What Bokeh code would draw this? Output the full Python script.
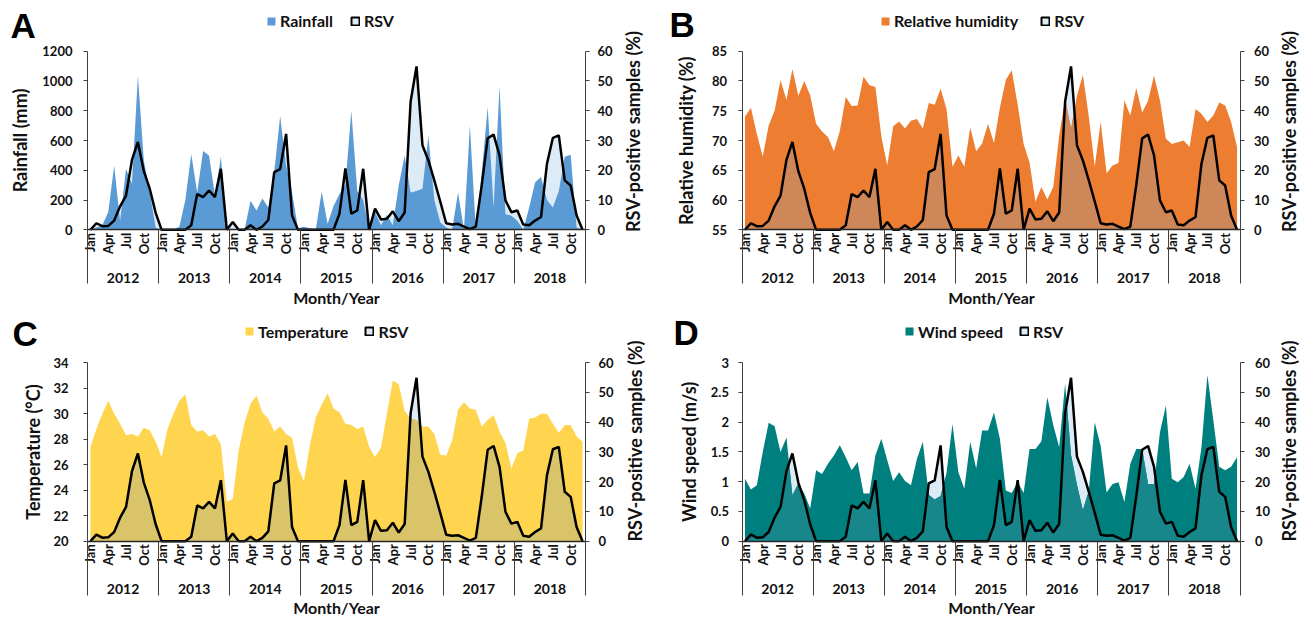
import math
import numpy as np
from bokeh.plotting import figure
from bokeh.models import (Range1d, LinearAxis, FixedTicker, Legend, LegendItem, Label,
                          NumeralTickFormatter)
from bokeh.layouts import column, row
from bokeh.embed import file_html
from bokeh.resources import INLINE

years = ["2012", "2013", "2014", "2015", "2016", "2017", "2018"]
months = ["Jan", "Feb", "Mar", "Apr", "May", "Jun", "Jul", "Aug", "Sep", "Oct", "Nov", "Dec"]
labelled_months = ["Jan", "Apr", "Jul", "Oct"]

# RSV-positive samples (%), monthly 2012-2018
rsv_positive = [
    0, 2.2, 1.2, 1.3, 3.1, 7.9, 11.5, 23.5, 29.5, 19.7, 13.8, 5.7,
    0, 0, 0, 0, 0, 1.5, 12.0, 11.0, 13.2, 11.0, 20.5, 0,
    2.6, 0, 0, 1.5, 0, 1.1, 3.3, 19.4, 20.4, 32.2, 4.8, 0,
    0, 0, 0, 0, 0, 0, 5.4, 20.6, 5.4, 6.5, 20.5, 0,
    7.1, 3.5, 3.7, 6.2, 2.9, 5.8, 43.0, 54.9, 28.4, 23.3, 16.6, 9.5,
    2.2, 1.8, 2.0, 1.1, 0.2, 1.1, 15.0, 30.7, 32.0, 25.0, 9.9, 5.9,
    6.5, 1.8, 1.5, 3.1, 4.3, 22.2, 30.9, 31.7, 16.6, 14.9, 4.8, 0,
]
# Rainfall (mm)
rainfall = [
    0, 15, 30, 120, 430, 60, 410, 310, 1035, 465, 250, 15,
    0, 0, 0, 20, 200, 510, 250, 530, 500, 230, 490, 0,
    0, 0, 0, 195, 130, 210, 150, 390, 765, 430, 250, 10,
    20, 10, 0, 255, 40, 160, 240, 300, 800, 260, 200, 0,
    120, 30, 100, 30, 300, 500, 250, 260, 275, 630, 200, 50,
    15, 0, 250, 0, 700, 0, 380, 825, 150, 965, 105, 95,
    60, 0, 150, 320, 355, 200, 150, 260, 490, 505, 15, 0,
]
# Relative humidity (%)
humidity = [
    74.0, 75.5, 71.1, 67.3, 72.5, 75.0, 80.1, 76.8, 82.0, 77.5, 80.0, 77.6,
    72.8, 71.5, 70.6, 68.2, 71.6, 77.3, 75.8, 75.9, 80.7, 79.3, 79.0, 70.7,
    65.8, 72.4, 73.2, 72.0, 73.3, 73.6, 72.0, 76.3, 76.0, 78.7, 75.3, 65.6,
    67.5, 65.6, 72.2, 68.2, 69.5, 72.8, 69.6, 75.5, 80.2, 81.8, 76.0, 69.4,
    66.3, 59.7, 62.2, 60.1, 62.2, 70.8, 77.0, 72.0, 77.5, 81.0, 74.0, 65.6,
    73.1, 64.5, 65.8, 66.2, 76.7, 74.2, 78.8, 74.7, 76.7, 80.9, 76.7, 70.3,
    69.4, 69.7, 70.0, 68.9, 75.3, 74.5, 73.1, 74.2, 76.4, 75.9, 73.1, 68.9,
]
# Temperature (deg C)
temperature = [
    27.4, 28.8, 30.0, 31.0, 30.0, 29.2, 28.3, 28.4, 28.2, 28.9, 28.7, 27.8,
    26.6, 28.8, 30.0, 31.0, 31.5, 29.1, 28.6, 28.7, 28.2, 28.4, 27.6, 23.1,
    23.3, 27.1, 29.3, 30.8, 31.4, 30.1, 29.6, 28.6, 29.0, 28.4, 28.1, 25.8,
    24.7, 27.5, 29.7, 30.7, 31.6, 30.4, 30.1, 29.2, 29.1, 28.8, 29.0, 27.4,
    26.6, 27.3, 30.0, 32.6, 32.3, 30.2, 29.6, 29.5, 29.0, 29.0, 28.4, 26.8,
    26.7, 27.9, 30.3, 30.9, 30.4, 30.3, 29.0, 29.5, 29.9, 28.6, 27.7, 25.7,
    26.9, 27.1, 29.6, 29.7, 30.0, 30.0, 29.2, 28.5, 29.1, 29.1, 28.2, 27.8,
]
# Wind speed (m/s)
wind_speed = [
    1.05, 0.87, 0.94, 1.50, 1.99, 1.93, 1.50, 1.74, 0.77, 0.97, 0.80, 0.55,
    1.19, 1.13, 1.30, 1.44, 1.61, 1.41, 1.19, 1.33, 0.80, 0.80, 1.44, 1.72,
    1.36, 1.01, 1.16, 1.01, 0.94, 1.38, 1.67, 0.78, 0.70, 0.76, 1.15, 1.97,
    1.16, 0.88, 1.67, 1.22, 1.86, 1.86, 2.16, 1.72, 0.85, 0.81, 1.00, 0.81,
    1.55, 1.55, 1.68, 2.42, 1.95, 1.58, 2.65, 1.45, 0.95, 0.52, 0.85, 2.00,
    1.60, 0.82, 0.96, 0.99, 0.66, 1.30, 1.55, 1.55, 0.96, 0.96, 1.83, 2.28,
    1.05, 0.99, 1.08, 1.30, 0.88, 1.58, 2.79, 2.03, 1.25, 1.19, 1.25, 1.41,
]

FONT = "Lato"
TXT = "#111111"
AXC = "#404040"
RSV_FILL = "#DDEBF7"
N = len(years) * len(months)
xs = list(range(N))
X0, X1 = -0.5, N - 0.5           # category-axis extent
PLOT_W = 498.0                   # px spanned by the category axis
PLOT_H = 178.6                   # px spanned by the value axes


def overlap_profile(env, rsv, lo, hi):
    r = [lo + v / 60.0 * (hi - lo) for v in rsv]
    ox, oy = [], []
    for i in range(len(env)):
        ox.append(i)
        oy.append(min(env[i], r[i]))
        if i < len(env) - 1:
            d0 = env[i] - r[i]
            d1 = env[i + 1] - r[i + 1]
            if d0 * d1 < 0:
                t = d0 / (d0 - d1)
                ox.append(i + t)
                oy.append(env[i] + t * (env[i + 1] - env[i]))
    return ox, oy


def style_y(ax, standoff, label_standoff):
    ax.axis_line_color = AXC
    ax.axis_line_width = 1
    ax.major_tick_line_color = AXC
    ax.major_tick_out = 4
    ax.major_tick_in = 0
    ax.minor_tick_line_color = None
    ax.major_label_standoff = standoff
    ax.major_label_text_font = FONT
    ax.major_label_text_font_style = "bold"
    ax.major_label_text_font_size = "13px"
    ax.major_label_text_color = TXT
    ax.axis_label_standoff = label_standoff
    ax.axis_label_text_font = FONT
    ax.axis_label_text_font_style = "bold"
    ax.axis_label_text_font_size = "18px"
    ax.axis_label_text_color = TXT


def make_panel(letter, values, name, color, ov_color, lo, hi, step, title, fmt, g):
    W, H = g["W"], g["H"]
    sx = PLOT_W / (X1 - X0)
    sy = PLOT_H / (hi - lo)
    sr = PLOT_H / 60.0
    x_range = Range1d(X0 - g["L"] / sx, X1 + (W - g["L"] - PLOT_W) / sx)
    y_range = Range1d(lo - g["B"] / sy, hi + (H - g["B"] - PLOT_H) / sy)
    r_range = Range1d(0 - g["B"] / sr, 60 + (H - g["B"] - PLOT_H) / sr)

    p = figure(width=W, height=H, x_range=x_range, y_range=y_range,
               x_axis_location=None, y_axis_location=None,
               min_border_left=0, min_border_right=0, min_border_top=0, min_border_bottom=0,
               output_backend="svg", toolbar_location=None)
    p.outline_line_color = None
    p.grid.visible = False
    p.extra_y_ranges = {"rsv": r_range}

    # layers
    p.varea(x=xs, y1=[0] * N, y2=rsv_positive, y_range_name="rsv", fill_color=RSV_FILL)
    env_r = p.varea(x=xs, y1=[lo] * N, y2=values, fill_color=color)
    if ov_color is not None:
        ox, oy = overlap_profile(values, rsv_positive, lo, hi)
        p.varea(x=ox, y1=[lo] * len(ox), y2=oy, fill_color=ov_color)
    p.line(x=xs, y=rsv_positive, y_range_name="rsv", line_color="black", line_width=2.5)
    # legend proxy for the RSV swatch (no drawable geometry)
    nan = np.array([np.nan])
    swatch = p.quad(left=nan, right=nan, top=nan, bottom=nan, fill_color=RSV_FILL,
                    line_color="black", line_width=2)

    # left value axis
    nt = int(round((hi - lo) / step))
    ya = LinearAxis(fixed_location=X0, bounds=(lo, hi),
                    ticker=FixedTicker(ticks=[lo + k * step for k in range(nt + 1)]),
                    axis_label=title)
    if fmt:
        ya.formatter = NumeralTickFormatter(format=fmt)
    style_y(ya, g["ls"], g["lts"])
    p.add_layout(ya, "left")

    # right RSV axis
    ra = LinearAxis(y_range_name="rsv", fixed_location=X1, bounds=(0, 60),
                    ticker=FixedTicker(ticks=[0, 10, 20, 30, 40, 50, 60]))
    style_y(ra, g["rs"], 0)
    p.add_layout(ra, "right")

    # month labels
    maj = [yi * 12 + months.index(m) for yi in range(len(years)) for m in labelled_months]
    mx = LinearAxis(fixed_location=lo, bounds=(X0, X1), ticker=FixedTicker(ticks=maj),
                    major_label_overrides={t: months[t % 12] for t in maj},
                    major_label_orientation=math.pi / 2)
    mx.axis_line_color = "#262626"
    mx.axis_line_width = 1.5
    mx.major_tick_line_color = None
    mx.major_tick_out = 0
    mx.major_tick_in = 0
    mx.minor_tick_line_color = None
    mx.major_label_standoff = 3
    mx.major_label_text_font = FONT
    mx.major_label_text_font_style = "bold"
    mx.major_label_text_font_size = "13px"
    mx.major_label_text_color = TXT
    p.add_layout(mx, "below")

    # year separators
    sep = LinearAxis(fixed_location=lo, bounds=(X0 - 0.01, X1 + 0.01),
                     ticker=FixedTicker(ticks=[], minor_ticks=[X0 + k * 12 for k in range(len(years) + 1)]))
    sep.axis_line_color = None
    sep.major_tick_line_color = None
    sep.minor_tick_line_color = AXC
    sep.minor_tick_line_width = 1
    sep.minor_tick_out = 54
    sep.minor_tick_in = 0
    p.add_layout(sep, "below")

    # year labels + axis title
    yrx = LinearAxis(fixed_location=lo, bounds=(X0, X1),
                     ticker=FixedTicker(ticks=[k * 12 + 5.5 for k in range(len(years))]),
                     major_label_overrides={k * 12 + 5.5: years[k] for k in range(len(years))},
                     axis_label="Month/Year")
    yrx.axis_line_color = None
    yrx.major_tick_line_color = None
    yrx.minor_tick_line_color = None
    yrx.major_tick_out = 0
    yrx.major_tick_in = 0
    yrx.major_label_standoff = g["ys"]
    yrx.major_label_text_font = FONT
    yrx.major_label_text_font_style = "bold"
    yrx.major_label_text_font_size = "14px"
    yrx.major_label_text_color = TXT
    yrx.axis_label_standoff = g["ms"]
    yrx.axis_label_text_font = FONT
    yrx.axis_label_text_font_style = "bold"
    yrx.axis_label_text_font_size = "16px"
    yrx.axis_label_text_color = TXT
    p.add_layout(yrx, "below")

    # right axis title, reading bottom-to-top
    p.add_layout(Label(x=g["rtx"], y=g["rty"], x_units="screen", y_units="screen",
                       text="RSV-positive samples (%)", angle=math.pi / 2,
                       text_align="center", text_baseline="middle",
                       text_font=FONT, text_font_style="bold", text_font_size="18px",
                       text_color=TXT))
    # panel letter
    p.add_layout(Label(x=g["lx"], y=g["ly"], x_units="screen", y_units="screen",
                       text=letter, text_align="left", text_baseline="middle",
                       text_font="Liberation Sans", text_font_style="bold",
                       text_font_size="35px", text_color="black"))
    # legend
    leg = Legend(items=[LegendItem(label=name, renderers=[env_r]),
                        LegendItem(label="RSV", renderers=[swatch])],
                 location=(g["gx"], g["gy"]), orientation="horizontal",
                 glyph_width=10, glyph_height=10, label_standoff=4, spacing=g["sp"],
                 padding=0, margin=0, border_line_color=None, background_fill_alpha=0,
                 label_text_font=FONT, label_text_font_style="bold",
                 label_text_font_size="16px", label_text_color=TXT, label_height=14)
    p.add_layout(leg, "center")
    return p


H1, H2 = 310, 307
gA = dict(W=660, H=H1, L=87, B=H1 - 229.3, ls=11, lts=8, rs=8, ys=43, ms=2,
          rtx=632.5, rty=H1 - 131, lx=10, ly=H1 - 24.5, gx=266, gy=H1 - 30, sp=17)
gB = dict(W=641, H=H1, L=81.5, B=H1 - 229.3, ls=11, lts=12, rs=10, ys=43, ms=2,
          rtx=628.5, rty=H1 - 131, lx=9, ly=H1 - 24.2, gx=220, gy=H1 - 30, sp=22)
gC = dict(W=660, H=H2, L=87, B=H2 - 230.7, ls=15, lts=6, rs=9, ys=43, ms=0,
          rtx=634, rty=H2 - 130.5, lx=12, ly=H2 - 22.5, gx=244, gy=H2 - 30.7, sp=16)
gD = dict(W=641, H=H2, L=81.5, B=H2 - 230.7, ls=9, lts=8, rs=11, ys=43, ms=0,
          rtx=628, rty=H2 - 130.5, lx=13, ly=H2 - 21.7, gx=244, gy=H2 - 30.7, sp=16)

pA = make_panel("A", rainfall, "Rainfall", "#5B9BD5", None, 0, 1200, 200,
                "Rainfall (mm)", None, gA)
pB = make_panel("B", humidity, "Relative humidity", "#ED7D31", "#CE8758", 55, 85, 5,
                "Relative humidity (%)", None, gB)
pC = make_panel("C", temperature, "Temperature", "#FFD44F", "#D9C46A", 20, 34, 2,
                "Temperature (\u00b0C)", None, gC)
pD = make_panel("D", wind_speed, "Wind speed", "#007F7F", "#17878C", 0, 3, 0.5,
                "Wind speed (m/s)", "0.[0]", gD)

layout = column(row(pA, pB), row(pC, pD))
open("out.html", "w").write(file_html(layout, INLINE))
